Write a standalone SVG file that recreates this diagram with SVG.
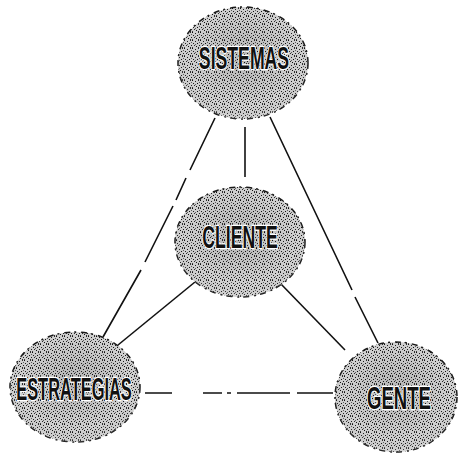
<svg xmlns="http://www.w3.org/2000/svg" width="461" height="455" viewBox="0 0 461 455">
  <defs>
    <pattern id="stip" width="8" height="8" patternUnits="userSpaceOnUse">
      <rect width="8" height="8" fill="#e6e6e6"/>
      <rect x="0" y="0" width="1" height="1" fill="#111"/>
      <rect x="3" y="1" width="1" height="1" fill="#222"/>
      <rect x="6" y="0" width="1" height="1" fill="#333"/>
      <rect x="1" y="3" width="1" height="1" fill="#222"/>
      <rect x="5" y="3" width="1" height="1" fill="#111"/>
      <rect x="2" y="5" width="1" height="1" fill="#333"/>
      <rect x="7" y="5" width="1" height="1" fill="#222"/>
      <rect x="4" y="6" width="1" height="1" fill="#111"/>
      <rect x="0" y="7" width="1" height="1" fill="#444"/>
      <rect x="6" y="7" width="1" height="1" fill="#333"/>
      <rect x="3" y="4" width="1" height="1" fill="#666"/>
      <rect x="7" y="2" width="1" height="1" fill="#666"/>
    </pattern>
    <radialGradient id="shade" cx="0.5" cy="0.45" r="0.6">
      <stop offset="0" stop-color="#000" stop-opacity="0.22"/>
      <stop offset="0.75" stop-color="#000" stop-opacity="0.1"/>
      <stop offset="1" stop-color="#fff" stop-opacity="0.35"/>
    </radialGradient>
    <style>
      .blob { fill: url(#stip); stroke: #1a1a1a; stroke-width: 1.5; stroke-dasharray: 6 4 2 5; }
      .shade { fill: url(#shade); stroke: none; }
      .lbl { font-family: "Liberation Sans", Arial, sans-serif; font-weight: bold; font-size: 31px; fill: #111; stroke: #fff; stroke-width: 2.5; paint-order: stroke; text-anchor: middle; dominant-baseline: central; }
      .ln { stroke: #111; stroke-width: 1.6; fill: none; }
    </style>
  </defs>

  <g id="connectors">
    <path class="ln" d="M215 118 L190 170 M186 178 L176 200 M173 206 L145 262 M141 270 L103 337" />
    <path class="ln" d="M270 117 L352 290 M355 297 L378 343" />
    <path class="ln" d="M245 127 L245 177" />
    <path class="ln" d="M195 282 L118 345" />
    <path class="ln" d="M280 283 L345 350" />
    <path class="ln" d="M145 393 L172 393 M203 393 L222 393 M227 393 L231 393 M237 393 L290 393 M297 393 L333 393" />
  </g>

  <g id="sistemas">
    <ellipse class="blob" cx="243" cy="63" rx="65" ry="56"/>
    <ellipse class="shade" cx="243" cy="63" rx="65" ry="56"/>
    <text class="lbl" transform="translate(244,58) scale(0.57,1)">SISTEMAS</text>
  </g>

  <g id="cliente">
    <ellipse class="blob" cx="240" cy="242" rx="65" ry="55"/>
    <ellipse class="shade" cx="240" cy="242" rx="65" ry="55"/>
    <text class="lbl" transform="translate(240,237) scale(0.57,1)">CLIENTE</text>
  </g>

  <g id="estrategias">
    <ellipse class="blob" cx="75" cy="387" rx="65" ry="55"/>
    <ellipse class="shade" cx="75" cy="387" rx="65" ry="55"/>
    <text class="lbl" transform="translate(74,389) scale(0.53,1)">ESTRATEGIAS</text>
  </g>

  <g id="gente">
    <ellipse class="blob" cx="396" cy="397" rx="61" ry="55"/>
    <ellipse class="shade" cx="396" cy="397" rx="61" ry="55"/>
    <text class="lbl" transform="translate(399,398) scale(0.6,1)">GENTE</text>
  </g>
</svg>
